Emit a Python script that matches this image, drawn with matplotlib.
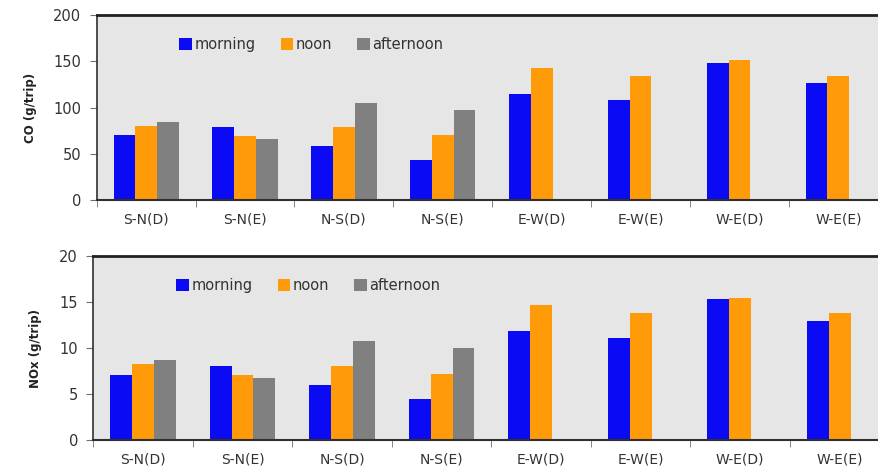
import numpy as np
import matplotlib
matplotlib.use('Agg')
import matplotlib.pyplot as plt

# data
routes = ['S-N(D)', 'S-N(E)', 'N-S(D)', 'N-S(E)', 'E-W(D)', 'E-W(E)', 'W-E(D)', 'W-E(E)']
co_morning = [70, 79, 58, 43, 115, 108, 148, 126]
co_noon = [80, 69, 79, 70, 143, 134, 151, 134]
co_afternoon = [84, 66, 105, 97, np.nan, np.nan, np.nan, np.nan]
nox_morning = [7.1, 8.1, 6.0, 4.5, 11.9, 11.1, 15.3, 13.0]
nox_noon = [8.3, 7.1, 8.1, 7.2, 14.7, 13.8, 15.5, 13.8]
nox_afternoon = [8.7, 6.7, 10.8, 10.0, np.nan, np.nan, np.nan, np.nan]

series_names = ['morning', 'noon', 'afternoon']
colors = ['#0a0af5', '#ff9a08', '#808080']
text_col = '#333333'

fig = plt.figure(figsize=(8.79, 4.70), dpi=100)
ax1 = fig.add_axes([0.110, 0.5745, 0.900, 0.3935])
ax2 = fig.add_axes([0.106, 0.0638, 0.906, 0.3912])


def draw(ax, data, ymax, step, ylabel):
    x = np.arange(len(routes))
    w = 0.22
    for i, (vals, name, c) in enumerate(zip(data, series_names, colors)):
        ax.bar(x + (i - 1) * w, vals, w, color=c, label=name, zorder=2)
    ax.set_facecolor('#e6e6e6')
    ax.set_xlim(-0.5, len(routes) - 0.5)
    ax.set_ylim(0, ymax)
    ax.set_yticks(np.arange(0, ymax + step, step))
    ax.set_xticks(x)
    ax.set_xticklabels(routes)
    ax.set_xticks(np.arange(len(routes) + 1) - 0.5, minor=True)
    ax.tick_params(axis='x', which='major', length=0, pad=9,
                   labelsize=10, labelcolor=text_col)
    ax.tick_params(axis='x', which='minor', length=5, color='#707070', direction='out')
    ax.tick_params(axis='y', length=5, color='#707070', labelsize=10.5,
                   labelcolor=text_col, pad=6)
    ax.spines['right'].set_visible(False)
    ax.spines['top'].set_linewidth(2)
    ax.spines['top'].set_color('#202020')
    ax.spines['bottom'].set_linewidth(1.5)
    ax.spines['bottom'].set_color('#303030')
    ax.spines['left'].set_linewidth(1.2)
    ax.spines['left'].set_color('#303030')
    ax.set_ylabel(ylabel, fontsize=8.5, fontweight='bold', color='#222222', labelpad=12)
    ax.legend(loc='center left', bbox_to_anchor=(0.088, 0.84), ncol=3, frameon=False,
              fontsize=10.5, handlelength=0.85, handleheight=0.85, handletextpad=0.2,
              columnspacing=1.7, labelcolor=text_col)


draw(ax1, [co_morning, co_noon, co_afternoon], 200, 50, 'CO (g/trip)')
draw(ax2, [nox_morning, nox_noon, nox_afternoon], 20, 5, 'NOx (g/trip)')

fig.savefig('out.png', dpi=100)
